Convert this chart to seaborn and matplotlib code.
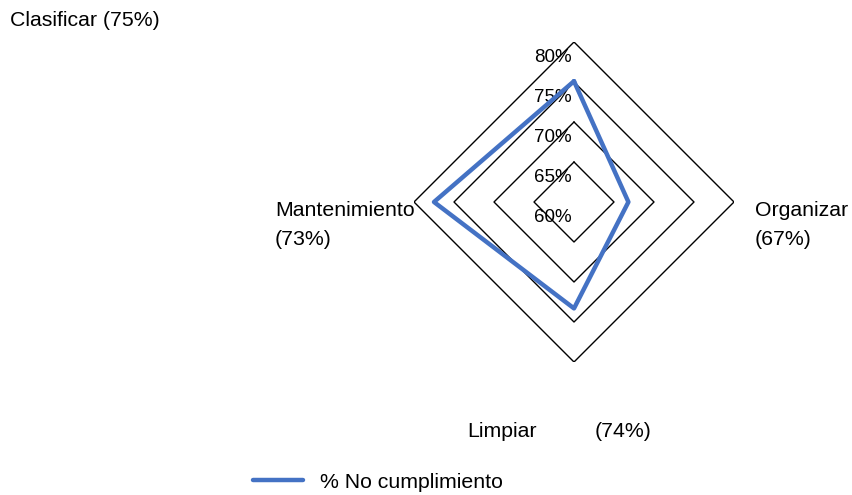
import numpy as np
import pandas as pd
import seaborn as sns
import matplotlib.pyplot as plt
import matplotlib.transforms as mtransforms

# datos del grafico radar
categorias = ['Clasificar', 'Organizar', 'Limpiar', 'Mantenimiento']
valores = [75.1, 66.8, 73.3, 77.5]          # % No cumplimiento (leido del trazo)
porcentajes = ['(75%)', '(67%)', '(74%)', '(73%)']
niveles = [60, 65, 70, 75, 80]
serie = '% No cumplimiento'

sns.set_style('white')
plt.rcParams['font.family'] = ['Liberation Sans', 'DejaVu Sans']
plt.rcParams['text.color'] = 'black'

fs_cat = 15.3
fs_tick = 13.5
azul = '#4472C4'

fig = plt.figure(figsize=(8.53, 4.95), dpi=100)
ax = fig.add_axes([414 / 853, (495 - 362) / 495, 320 / 853, 320 / 495], projection='polar')
ax.set_theta_offset(np.pi / 2)
ax.set_theta_direction(-1)

angulos = np.linspace(0, 2 * np.pi, len(categorias), endpoint=False)
ang_cerrado = np.append(angulos, angulos[0] + 2 * np.pi)

# rejilla en forma de rombo
for nivel in niveles[1:]:
    ax.plot(ang_cerrado, [nivel] * len(ang_cerrado), color='black', lw=1.0, zorder=1)

# serie (poligono cerrado)
df = pd.DataFrame({'ang': ang_cerrado, 'valor': valores + valores[:1]})
sns.lineplot(data=df, x='ang', y='valor', sort=False, estimator=None,
             ax=ax, color=azul, lw=3.2, zorder=3, legend=False)
ax.set_ylim(niveles[0], niveles[-1])

ax.grid(False)
ax.set_xticks([])
ax.set_yticks([])
ax.spines['polar'].set_visible(False)
ax.set_xlabel('')
ax.set_ylabel('')

# etiquetas de los niveles
desplaza = mtransforms.offset_copy(ax.transData, fig=fig, x=-2, y=-7, units='dots')
for nivel in niveles:
    ax.text(0, nivel, f'{nivel}%', transform=desplaza, ha='right', va='top',
            fontsize=fs_tick, zorder=2)


def px(x, y):
    return x / 853, 1 - y / 495


# etiquetas de categorias (posicion de la linea base en pixeles)
fig.text(*px(10, 26), f'{categorias[0]} {porcentajes[0]}', fontsize=fs_cat, va='baseline')
fig.text(*px(755, 216), categorias[1], fontsize=fs_cat, va='baseline')
fig.text(*px(755, 245), porcentajes[1], fontsize=fs_cat, va='baseline')
fig.text(*px(467, 437), categorias[2], fontsize=fs_cat, va='baseline')
fig.text(*px(595, 437), porcentajes[2], fontsize=fs_cat, va='baseline')
fig.text(*px(275, 216), categorias[3], fontsize=fs_cat, va='baseline')
fig.text(*px(275, 245), porcentajes[3], fontsize=fs_cat, va='baseline')

fig.legend([plt.Line2D([], [], color=azul, lw=3.2)], [serie],
           loc='center left', bbox_to_anchor=px(253, 482), frameon=False,
           borderpad=0, borderaxespad=0, handlelength=50 / (fs_cat * 100 / 72),
           handletextpad=17 / (fs_cat * 100 / 72), fontsize=fs_cat)

plt.savefig('out.png', dpi=100)
